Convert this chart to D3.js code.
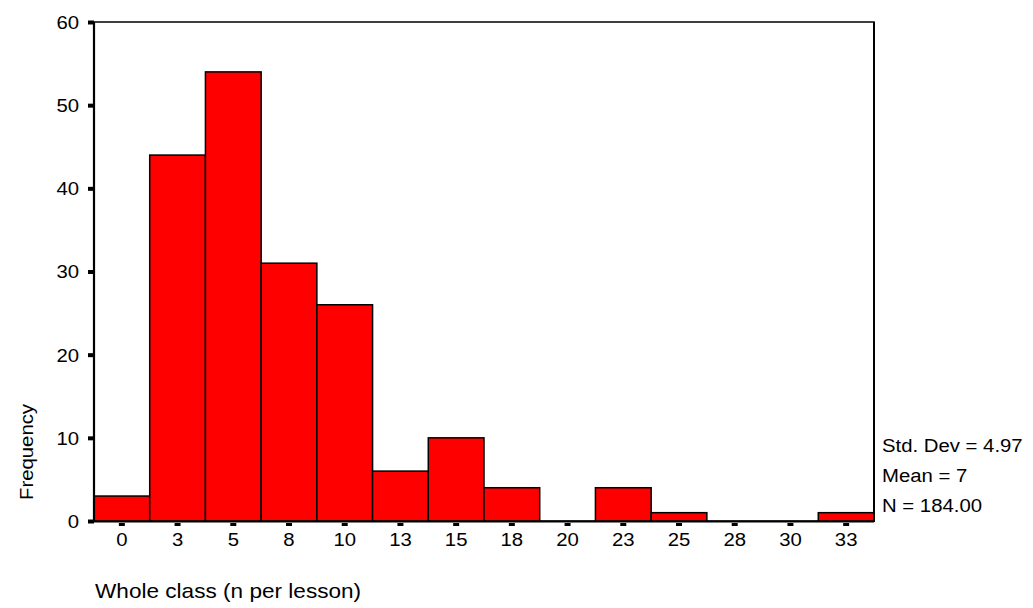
<!DOCTYPE html>
<html>
<head>
<meta charset="utf-8">
<script src="https://cdn.jsdelivr.net/npm/d3@7"></script>
<style>
  html, body { margin: 0; padding: 0; background: #fff; }
  svg { display: block; }
  text { font-family: "Liberation Sans", Arial, sans-serif; fill: #000; }
</style>
</head>
<body>
<svg id="chart" width="1033" height="608"></svg>
<script>
// ---- data ----
const categories = ["0","3","5","8","10","13","15","18","20","23","25","28","30","33"];
const counts     = [3, 44, 54, 31, 26, 6, 10, 4, 0, 4, 1, 0, 0, 1];
const yTicks     = [0, 10, 20, 30, 40, 50, 60];
const statsLines = ["Std. Dev = 4.97", "Mean = 7", "N = 184.00"];
const xTitle = "Whole class (n per lesson)";
const yTitle = "Frequency";

// ---- layout ----
const L = 94, R = 874, T = 22, B = 521;
const svg = d3.select("#chart");

const x = d3.scaleBand().domain(categories).range([L, R]).padding(0);
const y = d3.scaleLinear().domain([0, 60]).range([B, T]);

const SX = 1.13; // horizontal stretch of glyphs

// frame
svg.append("rect")
  .attr("x", L).attr("y", T).attr("width", R - L).attr("height", B - T)
  .attr("fill", "none").attr("stroke", "#000").attr("stroke-width", 1.5);

// bars
svg.append("g").selectAll("rect").data(counts).join("rect")
  .attr("x", (d, i) => x(categories[i]))
  .attr("y", d => y(d))
  .attr("width", x.bandwidth())
  .attr("height", d => B - y(d))
  .attr("fill", "#ff0000")
  .attr("stroke", "#000")
  .attr("stroke-width", 1.5);

// axis lines (heavier left/bottom)
svg.append("line").attr("x1", L).attr("x2", L).attr("y1", T).attr("y2", B + 1)
  .attr("stroke", "#000").attr("stroke-width", 2.2);
svg.append("line").attr("x1", L).attr("x2", R).attr("y1", B + 0.5).attr("y2", B + 0.5)
  .attr("stroke", "#000").attr("stroke-width", 2.2);
svg.append("line").attr("x1", R).attr("x2", R).attr("y1", T).attr("y2", B + 1)
  .attr("stroke", "#000").attr("stroke-width", 2);

// y axis
const yAxis = svg.append("g")
  .attr("transform", `translate(${L},0)`)
  .call(d3.axisLeft(y).tickValues(yTicks).tickSize(6).tickFormat(d3.format("d")));
yAxis.select(".domain").remove();
yAxis.selectAll(".tick line").attr("stroke", "#000").attr("stroke-width", 4);
yAxis.selectAll(".tick text")
  .attr("x", -15 / SX).attr("dy", "0.36em")
  .attr("transform", `scale(${SX},1)`)
  .style("font-size", "18px")
  .attr("font-family", null);

// x axis
const xAxis = svg.append("g")
  .attr("transform", `translate(0,${B + 2})`)
  .call(d3.axisBottom(x).tickSize(3));
xAxis.select(".domain").remove();
xAxis.selectAll(".tick line").attr("stroke", "#000").attr("stroke-width", 6);
xAxis.selectAll(".tick text")
  .attr("y", 23).attr("dy", 0)
  .attr("transform", `scale(${SX},1)`)
  .style("font-size", "18px")
  .attr("font-family", null);

// stats
svg.append("g").selectAll("text").data(statsLines).join("text")
  .attr("transform", (d, i) => `translate(882,${452 + i * 30}) scale(${SX},1)`)
  .style("font-size", "18px")
  .text(d => d);

// titles
svg.append("text")
  .attr("transform", `translate(33,452) rotate(-90) scale(${SX},1)`)
  .attr("text-anchor", "middle")
  .style("font-size", "18px")
  .text(yTitle);

svg.append("text")
  .attr("transform", `translate(95,598) scale(${SX},1)`)
  .style("font-size", "20px")
  .text(xTitle);
</script>
</body>
</html>
